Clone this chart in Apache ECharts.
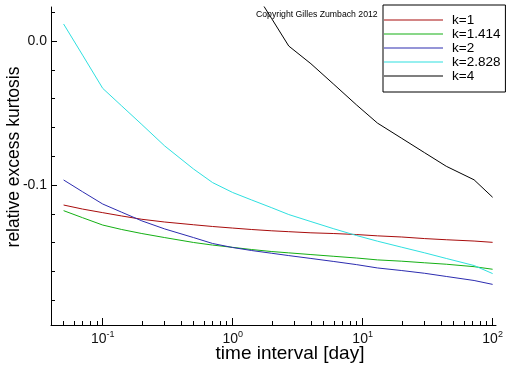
<!DOCTYPE html>
<html>
<head>
<meta charset="utf-8">
<script src="https://cdn.jsdelivr.net/npm/echarts@6/dist/echarts.min.js"></script>
<style>
html,body{margin:0;padding:0;background:#fff;}
#c{width:512px;height:366px;}
</style>
</head>
<body>
<div id="c"></div>
<script>
// time interval in days
var times = [0.05, 0.07, 0.1, 0.14, 0.2, 0.3, 0.5, 0.7, 1, 1.4, 2, 2.7, 4, 6, 9, 13, 20, 30, 44, 72, 100];
var k1    = [-0.1139, -0.1167, -0.1192, -0.1215, -0.1238, -0.1257, -0.1276, -0.1288, -0.1299, -0.1309, -0.1318, -0.1324, -0.1332, -0.1337, -0.1344, -0.1353, -0.1361, -0.1372, -0.1380, -0.1389, -0.1398];
var k1414 = [-0.1178, -0.1227, -0.1278, -0.1309, -0.1337, -0.1365, -0.1399, -0.1417, -0.1433, -0.1448, -0.1462, -0.1471, -0.1483, -0.1495, -0.1507, -0.1520, -0.1529, -0.1540, -0.1550, -0.1567, -0.1585];
var k2    = [-0.0965, -0.1047, -0.1132, -0.1189, -0.1249, -0.1305, -0.1365, -0.1406, -0.1434, -0.1455, -0.1474, -0.1490, -0.1510, -0.1531, -0.1553, -0.1576, -0.1594, -0.1613, -0.1635, -0.1663, -0.1690];
var k2828 = [0.0118, -0.0098, -0.0329, -0.0451, -0.0580, -0.0729, -0.0889, -0.0983, -0.1052, -0.1104, -0.1158, -0.1205, -0.1254, -0.1304, -0.1351, -0.1390, -0.1432, -0.1471, -0.1510, -0.1559, -0.1615];
var k4    = [null, null, null, null, null, null, null, null, null, 0.0376, 0.0154, -0.0035, -0.0158, -0.0301, -0.0445, -0.0570, -0.0676, -0.0776, -0.0870, -0.0964, -0.1085];

var seriesNames = ['k=1', 'k=1.414', 'k=2', 'k=2.828', 'k=4'];
var seriesValues = [k1, k1414, k2, k2828, k4];
var seriesColors = ['#a80c0c', '#14b014', '#2c2cb0', '#2ee0e0', '#000000'];

var xMajorExp = [-1, 0, 1, 2];          // decade ticks 10^n
var xMinorMult = [2, 3, 4, 5, 6, 7, 8, 9];
var yMajorTicks = [0, -0.1];
var yMinorTicks = [0.02, -0.02, -0.04, -0.06, -0.08, -0.12, -0.14, -0.16, -0.18];

var xMin = Math.log10(0.04), xMax = 2.026;
var yMin = -0.1972, yMax = 0.0236;

var xMinor = [];
[-2, -1, 0, 1].forEach(function (e) {
  xMinorMult.forEach(function (m) {
    var v = Math.log10(m) + e;
    if (v >= xMin && v <= xMax) xMinor.push(v);
  });
});

var FONT = 'Liberation Sans, Arial, sans-serif';
var chart = echarts.init(document.getElementById('c'), null, {renderer: 'canvas'});

var series = seriesNames.map(function (n, i) {
  return {
    name: n,
    type: 'line',
    xAxisIndex: 0,
    yAxisIndex: 0,
    symbol: 'none',
    clip: true,
    lineStyle: {color: seriesColors[i], width: 1},
    itemStyle: {color: seriesColors[i]},
    data: times.map(function (t, j) {
      return [Math.log10(t), seriesValues[i][j]];
    })
  };
});

chart.setOption({
  animation: false,
  backgroundColor: '#fff',
  grid: {left: 51, right: 16, top: 7, bottom: 41},
  xAxis: [{
    type: 'value', min: xMin, max: xMax, position: 'bottom',
    splitLine: {show: false},
    axisLine: {show: true, onZero: false, lineStyle: {color: '#000', width: 1}},
    axisTick: {show: true, inside: true, length: 7, customValues: xMajorExp, lineStyle: {color: '#000'}},
    axisLabel: {
      show: true, customValues: xMajorExp, margin: 5, color: '#111',
      formatter: function (v) { return '{b|10}{s|' + Math.round(v) + '}'; },
      rich: {
        b: {fontSize: 14, fontFamily: FONT, color: '#111', lineHeight: 19},
        s: {fontSize: 9, fontFamily: FONT, color: '#111', verticalAlign: 'top', lineHeight: 10}
      }
    }
  }, {
    type: 'value', min: xMin, max: xMax, position: 'bottom', gridIndex: 0,
    splitLine: {show: false},
    axisLine: {show: false, onZero: false},
    axisTick: {show: true, inside: true, length: 4, customValues: xMinor, lineStyle: {color: '#000'}},
    axisLabel: {show: false}
  }],
  yAxis: [{
    type: 'value', min: yMin, max: yMax, position: 'left',
    splitLine: {show: false},
    axisLine: {show: true, onZero: false, lineStyle: {color: '#000', width: 1}},
    axisTick: {show: true, inside: true, length: 6, customValues: yMajorTicks, lineStyle: {color: '#000'}},
    axisLabel: {
      show: true, customValues: yMajorTicks, margin: 4, color: '#111',
      fontSize: 14, fontFamily: FONT,
      formatter: function (v) { return v.toFixed(1); }
    }
  }, {
    type: 'value', min: yMin, max: yMax, position: 'left',
    splitLine: {show: false},
    axisLine: {show: false, onZero: false},
    axisTick: {show: true, inside: true, length: 4, customValues: yMinorTicks, lineStyle: {color: '#000'}},
    axisLabel: {show: false}
  }],
  legend: {
    show: true,
    orient: 'vertical',
    left: 383, top: 5,
    padding: [8, 5, 9, 1],
    borderColor: '#000', borderWidth: 1,
    backgroundColor: '#fff',
    icon: 'rect',
    itemWidth: 59, itemHeight: 1, itemGap: 0,
    selectedMode: false,
    textStyle: {fontSize: 13.5, lineHeight: 13, fontFamily: FONT, color: '#000', padding: [0, 0, 0, 4]},
    data: seriesNames
  },
  graphic: [
    {type: 'text', x: 14, y: 157, rotation: Math.PI / 2,
     style: {text: 'relative excess kurtosis', fontSize: 17.5, fontFamily: FONT, fill: '#000', align: 'center', verticalAlign: 'middle'}},
    {type: 'text', x: 290, y: 354,
     style: {text: 'time interval [day]', fontSize: 19, fontFamily: FONT, fill: '#000', align: 'center', verticalAlign: 'middle'}},
    {type: 'text', x: 256, y: 15, z: 100,
     style: {text: 'Copyright Gilles Zumbach 2012', fontSize: 8.7, fontFamily: FONT, fill: '#000', align: 'left', verticalAlign: 'middle'}}
  ],
  series: series
});
</script>
</body>
</html>
